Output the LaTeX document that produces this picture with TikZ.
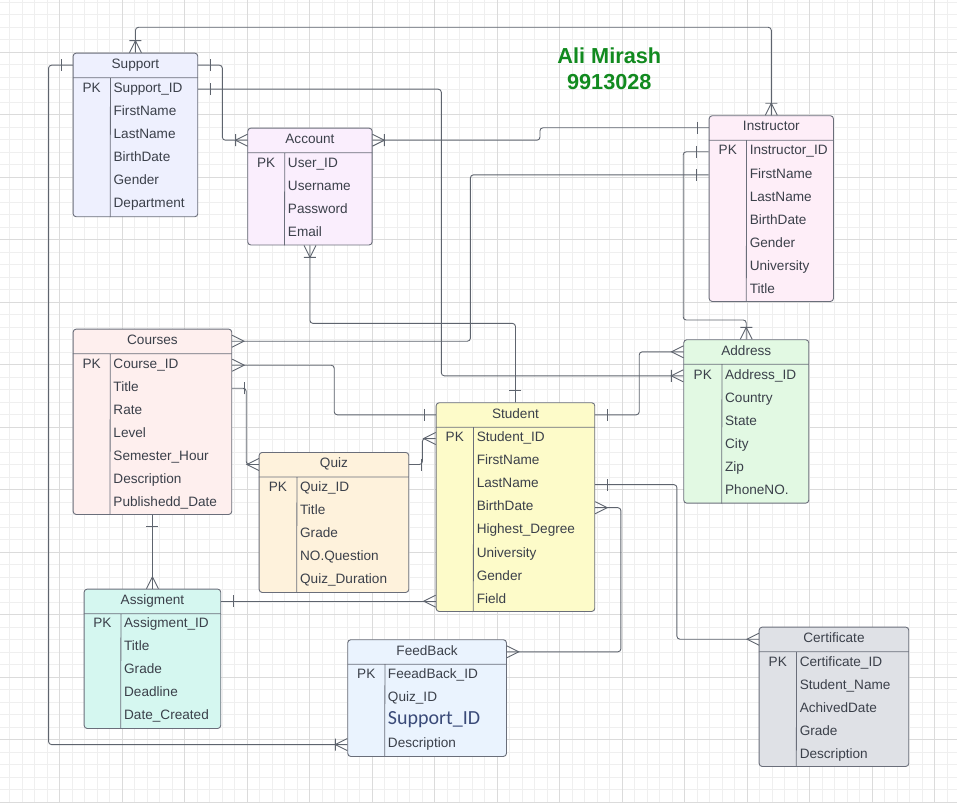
\documentclass[tikz,border=0pt]{standalone}
\usepackage{fontspec}
\setmainfont{Liberation Sans}
\newfontfamily\carlito{Carlito}
\usepackage{tikz}
\usetikzlibrary{positioning}

\definecolor{ink}{HTML}{3B404A}
\definecolor{wire}{HTML}{5E646E}
\definecolor{frame}{HTML}{6A6E7A}
\definecolor{gridminor}{HTML}{EFEFEF}
\definecolor{gridmajor}{HTML}{DBDBDB}
\definecolor{namegreen}{HTML}{118A1F}
\definecolor{supblue}{HTML}{3A4A78}
\definecolor{supportc}{HTML}{EEF0FE}
\definecolor{accountc}{HTML}{FAEEFD}
\definecolor{instructorc}{HTML}{FEEEF8}
\definecolor{coursesc}{HTML}{FEEFEE}
\definecolor{quizc}{HTML}{FEF2DC}
\definecolor{studentc}{HTML}{FDFBC9}
\definecolor{addressc}{HTML}{E2F9E3}
\definecolor{assigmentc}{HTML}{D5F7F0}
\definecolor{feedbackc}{HTML}{EAF3FE}
\definecolor{certificatec}{HTML}{DFE1E6}

% er end marks
\pgfdeclarearrow{
  name = one,
  setup code = {
    \pgfarrowssettipend{0pt}
    \pgfarrowssetlineend{0pt}
    \pgfarrowssetbackend{-12pt}
    \pgfarrowshullpoint{-12pt}{6pt}
    \pgfarrowshullpoint{-12pt}{-6pt}
    \pgfarrowshullpoint{0pt}{0pt}
  },
  drawing code = {
    \pgfpathmoveto{\pgfqpoint{-12pt}{6pt}}
    \pgfpathlineto{\pgfqpoint{-12pt}{-6pt}}
    \pgfusepathqstroke
  }
}
\pgfdeclarearrow{
  name = many,
  setup code = {
    \pgfarrowssettipend{0pt}
    \pgfarrowssetlineend{0pt}
    \pgfarrowssetbackend{-12pt}
    \pgfarrowshullpoint{0pt}{6pt}
    \pgfarrowshullpoint{0pt}{-6pt}
    \pgfarrowshullpoint{-12pt}{0pt}
  },
  drawing code = {
    \pgfpathmoveto{\pgfqpoint{0pt}{6pt}}
    \pgfpathlineto{\pgfqpoint{-12pt}{0pt}}
    \pgfpathlineto{\pgfqpoint{0pt}{-6pt}}
    \pgfusepathqstroke
  }
}
\pgfdeclarearrow{
  name = onemany,
  setup code = {
    \pgfarrowssettipend{0pt}
    \pgfarrowssetlineend{0pt}
    \pgfarrowssetbackend{-12pt}
    \pgfarrowshullpoint{0pt}{6pt}
    \pgfarrowshullpoint{0pt}{-6pt}
    \pgfarrowshullpoint{-12pt}{6pt}
    \pgfarrowshullpoint{-12pt}{-6pt}
  },
  drawing code = {
    \pgfpathmoveto{\pgfqpoint{0pt}{6pt}}
    \pgfpathlineto{\pgfqpoint{-12pt}{0pt}}
    \pgfpathlineto{\pgfqpoint{0pt}{-6pt}}
    \pgfpathmoveto{\pgfqpoint{-12pt}{6pt}}
    \pgfpathlineto{\pgfqpoint{-12pt}{-6pt}}
    \pgfusepathqstroke
  }
}

\begin{document}
\begin{tikzpicture}[x=1pt,y=-1pt]

\tikzstyle{table}=[draw=frame, line width=0.9pt, rounded corners=3pt, anchor=north west, inner sep=0]
\tikzstyle{head}=[minimum height=24.6, inner sep=0, text=ink, font=\fontsize{13.6}{16}\selectfont, text height=9.4, text depth=3]
\tikzstyle{field}=[anchor=west, inner sep=0, text=ink, font=\fontsize{13.6}{16}\selectfont, text height=9.4, text depth=3]
\tikzstyle{sep}=[draw=frame, line width=0.8pt]
\tikzstyle{line}=[draw=wire, line width=0.9pt, rounded corners=3pt]

\useasboundingbox (0,0) rectangle (957,802);
\fill[white] (0,0) rectangle (957,802);

% grid
\foreach \i in {0,...,77} \draw[gridminor, line width=0.8pt] ({-2.6+12.494*\i},0) -- ++(0,802);
\foreach \i in {0,...,65} \draw[gridminor, line width=0.8pt] (0,{-10.17+12.494*\i}) -- ++(957,0);
\foreach \i in {0,...,15} \draw[gridmajor, line width=0.8pt] ({-2.6+62.47*\i},0) -- ++(0,802);
\foreach \i in {0,...,13} \draw[gridmajor, line width=0.8pt] (0,{-10.17+62.47*\i}) -- ++(957,0);

\node[font=\bfseries\fontsize{21.7}{26}\selectfont, text=namegreen, align=center] (name) at (609.3,68.7) {Ali Mirash\\9913028};

% Support
\node[table, fill=supportc, minimum width=124.6, minimum height=163.6] (support) at (72.7,52.7) {};
\node[head, minimum width=124.6, below=0pt of support.north] (support-t) {Support};
\draw[sep] (support-t.south west) -- (support-t.south east) ([xshift=37.5]support-t.south west) -- ([xshift=37.5]support.south west);
\node[field, anchor=center] at ([xshift=18.7, yshift=-11.5]support-t.south west) {PK};
\foreach \f [count=\i] in {Support\_ID,FirstName,LastName,BirthDate,Gender,Department}
  \node[field] (support-\i) at ([xshift=40.5, yshift={-11.5-23.06*(\i-1)}]support-t.south west) {\f};

% Account
\node[table, fill=accountc, minimum width=124.4, minimum height=116.8] (account) at (247.3,127.7) {};
\node[head, minimum width=124.4, below=0pt of account.north] (account-t) {Account};
\draw[sep] (account-t.south west) -- (account-t.south east) ([xshift=37.2]account-t.south west) -- ([xshift=37.2]account.south west);
\node[field, anchor=center] at ([xshift=18.6, yshift=-11.5]account-t.south west) {PK};
\foreach \f [count=\i] in {User\_ID,Username,Password,Email}
  \node[field] (account-\i) at ([xshift=40.2, yshift={-11.5-23.06*(\i-1)}]account-t.south west) {\f};

% Instructor
\node[table, fill=instructorc, minimum width=124.3, minimum height=185.7] (instructor) at (708.7,115.3) {};
\node[head, minimum width=124.3, below=0pt of instructor.north] (instructor-t) {Instructor};
\draw[sep] (instructor-t.south west) -- (instructor-t.south east) ([xshift=37.6]instructor-t.south west) -- ([xshift=37.6]instructor.south west);
\node[field, anchor=center] at ([xshift=18.8, yshift=-11.5]instructor-t.south west) {PK};
\foreach \f [count=\i] in {Instructor\_ID,FirstName,LastName,BirthDate,Gender,University,Title}
  \node[field] (instructor-\i) at ([xshift=40.6, yshift={-11.5-23.06*(\i-1)}]instructor-t.south west) {\f};

% Courses
\node[table, fill=coursesc, minimum width=158.6, minimum height=185.3] (courses) at (72.7,328.7) {};
\node[head, minimum width=158.6, below=0pt of courses.north] (courses-t) {Courses};
\draw[sep] (courses-t.south west) -- (courses-t.south east) ([xshift=37.3]courses-t.south west) -- ([xshift=37.3]courses.south west);
\node[field, anchor=center] at ([xshift=18.7, yshift=-11.5]courses-t.south west) {PK};
\foreach \f [count=\i] in {Course\_ID,Title,Rate,Level,Semester\_Hour,Description,Publishedd\_Date}
  \node[field] (courses-\i) at ([xshift=40.3, yshift={-11.5-23.06*(\i-1)}]courses-t.south west) {\f};

% Quiz
\node[table, fill=quizc, minimum width=149.6, minimum height=140] (quiz) at (258.7,452) {};
\node[head, minimum width=149.6, below=0pt of quiz.north] (quiz-t) {Quiz};
\draw[sep] (quiz-t.south west) -- (quiz-t.south east) ([xshift=38]quiz-t.south west) -- ([xshift=38]quiz.south west);
\node[field, anchor=center] at ([xshift=19, yshift=-11.5]quiz-t.south west) {PK};
\foreach \f [count=\i] in {Quiz\_ID,Title,Grade,NO.Question,Quiz\_Duration}
  \node[field] (quiz-\i) at ([xshift=41, yshift={-11.5-23.06*(\i-1)}]quiz-t.south west) {\f};

% Student
\node[table, fill=studentc, minimum width=158.6, minimum height=208.7] (student) at (435.7,402.3) {};
\node[head, minimum width=158.6, below=0pt of student.north] (student-t) {Student};
\draw[sep] (student-t.south west) -- (student-t.south east) ([xshift=37.6]student-t.south west) -- ([xshift=37.6]student.south west);
\node[field, anchor=center] at ([xshift=18.8, yshift=-11.2]student-t.south west) {PK};
\foreach \f [count=\i] in {Student\_ID,FirstName,LastName,BirthDate,Highest\_Degree,University,Gender,Field}
  \node[field] (student-\i) at ([xshift=40.6, yshift={-11.2-23.06*(\i-1)}]student-t.south west) {\f};

% Address
\node[table, fill=addressc, minimum width=125, minimum height=163.4] (address) at (683.3,339.3) {};
\node[head, minimum width=125, below=0pt of address.north] (address-t) {Address};
\draw[sep] (address-t.south west) -- (address-t.south east) ([xshift=38.4]address-t.south west) -- ([xshift=38.4]address.south west);
\node[field, anchor=center] at ([xshift=19.2, yshift=-11.5]address-t.south west) {PK};
\foreach \f [count=\i] in {Address\_ID,Country,State,City,Zip,PhoneNO.}
  \node[field] (address-\i) at ([xshift=41.4, yshift={-11.5-23.06*(\i-1)}]address-t.south west) {\f};

% Assigment
\node[table, fill=assigmentc, minimum width=136.6, minimum height=139.3] (assigment) at (83.7,588.7) {};
\node[head, minimum width=136.6, below=0pt of assigment.north] (assigment-t) {Assigment};
\draw[sep] (assigment-t.south west) -- (assigment-t.south east) ([xshift=37]assigment-t.south west) -- ([xshift=37]assigment.south west);
\node[field, anchor=center] at ([xshift=18.5, yshift=-10.8]assigment-t.south west) {PK};
\foreach \f [count=\i] in {Assigment\_ID,Title,Grade,Deadline,Date\_Created}
  \node[field] (assigment-\i) at ([xshift=40, yshift={-10.8-23.06*(\i-1)}]assigment-t.south west) {\f};

% FeedBack
\node[table, fill=feedbackc, minimum width=158.7, minimum height=116.7] (feedback) at (347.3,639.3) {};
\node[head, minimum width=158.7, below=0pt of feedback.north] (feedback-t) {FeedBack};
\draw[sep] (feedback-t.south west) -- (feedback-t.south east) ([xshift=37.4]feedback-t.south west) -- ([xshift=37.4]feedback.south west);
\node[field, anchor=center] at ([xshift=18.7, yshift=-11.1]feedback-t.south west) {PK};
\foreach \f [count=\i] in {FeeadBack\_ID,Quiz\_ID,{\color{supblue}\carlito\fontsize{20}{22}\selectfont Support\_ID},Description}
  \node[field] (feedback-\i) at ([xshift=40.2, yshift={-11.1-23.06*(\i-1)}]feedback-t.south west) {\f};

% Certificate
\node[table, fill=certificatec, minimum width=149.6, minimum height=139.3] (certificate) at (758.7,626.7) {};
\node[head, minimum width=149.6, below=0pt of certificate.north] (certificate-t) {Certificate};
\draw[sep] (certificate-t.south west) -- (certificate-t.south east) ([xshift=37.6]certificate-t.south west) -- ([xshift=37.6]certificate.south west);
\node[field, anchor=center] at ([xshift=18.8, yshift=-11.5]certificate-t.south west) {PK};
\foreach \f [count=\i] in {Certificate\_ID,Student\_Name,AchivedDate,Grade,Description}
  \node[field] (certificate-\i) at ([xshift=40.6, yshift={-11.5-23.06*(\i-1)}]certificate-t.south west) {\f};

% relations
\path[line, onemany-onemany] (support.north) -- ++(0,-25.4) -| (instructor.north);
\path[line, one-onemany] (support-t.west) -- ++(-24.4,0) |- (feedback.west |- feedback-4);
\path[line, one-onemany] (support-t.east) -- ++(24.4,0) |- (account-t.west);
\path[line, one-onemany] (support.east |- support-1) -- ++(243.1,0) |- (address.west |- address-1);
\path[line, onemany-one] (account-t.east) -- ++(167.6,0) |- (instructor-t.west);
\path[line, onemany-one] (account.south) -- ++(0,78) -| (student.north);
\path[line, one-many] (instructor.west |- instructor-2) -- ++(-238.3,0) |- (courses-t.east);
\path[line, one-onemany] (instructor.west |- instructor-1) -- ++(-25.5,0) |- ([yshift=19.3]address.north) -- (address.north);
\path[line, many-one] (courses.east |- courses-1) -- ++(102,0) |- (student-t.west);
\path[line, one-many] (student-t.east) -- ++(44.3,0) |- (address-t.west);
\path[line, one-many] (courses.east |- courses-2) -- ++(14,0) |- (quiz-t.west);
\path[line, one-many] (quiz-t.east) -- ++(13.4,0) |- (student.west |- student-1);
\path[line, one-many] (courses.south) -- (assigment.north);
\path[line, one-many] (assigment-t.east) -- (assigment-t.east -| student.west);
\path[line, one-many] (student.east |- student-3) -- ++(81.7,0) |- (certificate-t.west);
\path[line, many-many] (student.east |- student-4) -- ++(25.7,0) |- (feedback-t.east);

\end{tikzpicture}
\end{document}
